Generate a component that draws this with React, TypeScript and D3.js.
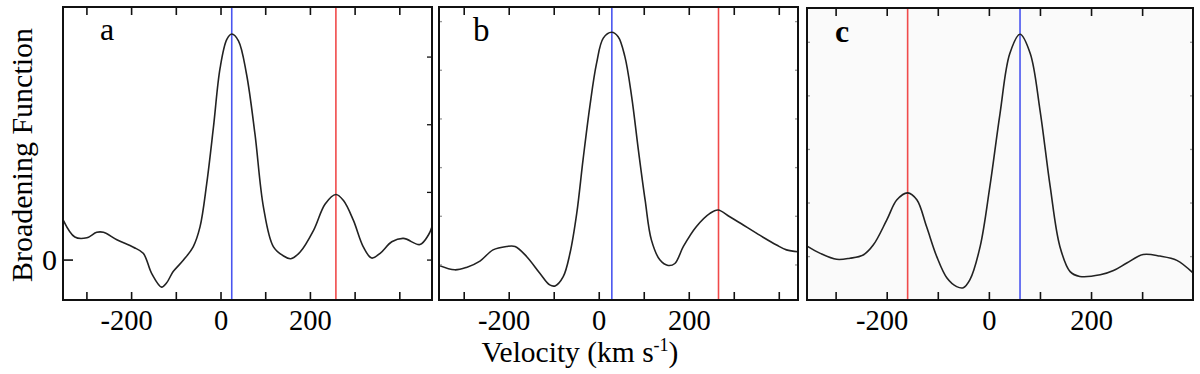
import React from 'react';
import * as d3 from 'd3';

// ---- Data (velocity km/s, broadening function in tick units) ----
const velA = [-353, -327, -300, -278, -263, -233, -196, -174, -155, -133, -122, -107, -84, -62, -47, -32, -17, -2, 13, 24, 39, 57, 76, 95, 117, 140, 156, 177, 207, 233, 257, 274, 296, 318, 337, 356, 382, 408, 445, 464, 473];
const bfA = [0.59, 0.34, 0.33, 0.41, 0.41, 0.30, 0.19, 0.10, -0.20, -0.40, -0.34, -0.17, 0.0, 0.20, 0.49, 1.13, 1.96, 2.84, 3.26, 3.34, 3.24, 2.75, 1.86, 0.78, 0.20, 0.06, 0.02, 0.12, 0.44, 0.83, 0.97, 0.88, 0.59, 0.20, 0.03, 0.10, 0.27, 0.32, 0.23, 0.37, 0.51];

const velB = [-356, -321, -295, -265, -236, -206, -187, -161, -132, -110, -98, -80, -65, -50, -36, -21, -6, 9, 27.5, 42, 57, 72, 87, 102, 116, 135, 153, 168, 187, 216, 246, 264, 290, 320, 350, 364, 394, 416, 442];
const bfB = [-0.01, -0.10, -0.05, 0.08, 0.31, 0.38, 0.38, 0.17, -0.17, -0.41, -0.43, -0.24, 0.24, 1.06, 2.16, 3.25, 4.14, 4.66, 4.78, 4.69, 4.28, 3.46, 2.36, 1.33, 0.51, 0.10, -0.01, 0.03, 0.38, 0.79, 1.06, 1.13, 0.99, 0.82, 0.65, 0.57, 0.41, 0.31, 0.27];

const velC = [-356, -331, -299, -273, -247, -227, -201, -181, -160, -142, -123, -103, -83, -64, -51, -38, -18, 1, 21, 40, 60, 80, 99, 119, 138, 158, 177, 217, 243, 269, 301, 334, 367, 398];
const bfC = [0.19, 0.06, -0.05, -0.03, 0.03, 0.22, 0.68, 1.06, 1.19, 1.06, 0.56, 0.0, -0.40, -0.56, -0.58, -0.43, 0.19, 1.31, 2.68, 3.79, 4.15, 3.79, 2.74, 1.31, 0.19, -0.28, -0.37, -0.34, -0.26, -0.12, 0.04, 0.01, -0.07, -0.30];

const panelLabels = ['a', 'b', 'c'];
const blueVel = [24, 28, 60];
const redVel = [257, 265, -160];
const xTicksA = [-300, -200, -100, 0, 100, 200, 300, 400];
const xTicksC = [-300, -200, -100, 0, 100, 200, 300];
const xTickLabels = [-200, 0, 200];
const yTicksA = [0, 1, 2, 3];
const yTicksB = [0, 1, 2, 3, 4, 5];
const yTicksC = [0, 1, 2, 3, 4];

const FONT = 'Liberation Serif, Tinos, Times New Roman, Times, serif';

type Panel = {
  vel: number[];
  bf: number[];
  x0: number; x1: number; y0: number; y1: number;
  xDom: [number, number];
  yDom: [number, number];
  xTicks: number[];
  yTicks: number[];
  label: string;
  labelX: number; labelY: number; labelSize: number; labelBold: boolean;
  blue: number; red: number;
  sideTickStyle: 'dark' | 'light';
  bg: string;
};

const panels: Panel[] = [
  { vel: velA, bf: bfA, x0: 63, x1: 432, y0: 7, y1: 300, xDom: [-353.5, 472], yDom: [-0.59, 3.74], xTicks: xTicksA, yTicks: yTicksA,
    label: panelLabels[0], labelX: 100, labelY: 40, labelSize: 32, labelBold: false, blue: blueVel[0], red: redVel[0], sideTickStyle: 'dark', bg: '#ffffff' },
  { vel: velB, bf: bfB, x0: 439, x1: 798, y0: 7, y1: 300, xDom: [-356, 441.6], yDom: [-0.72, 5.30], xTicks: xTicksA, yTicks: yTicksB,
    label: panelLabels[1], labelX: 473, labelY: 41, labelSize: 33, labelBold: false, blue: blueVel[1], red: redVel[1], sideTickStyle: 'light', bg: '#ffffff' },
  { vel: velC, bf: bfC, x0: 807, x1: 1193, y0: 8, y1: 300, xDom: [-357, 398.6], yDom: [-0.81, 4.64], xTicks: xTicksC, yTicks: yTicksC,
    label: panelLabels[2], labelX: 835, labelY: 42, labelSize: 32, labelBold: true, blue: blueVel[2], red: redVel[2], sideTickStyle: 'light', bg: '#fafafa' },
];

const txt = (size: number, bold = false): React.CSSProperties => ({
  fontFamily: FONT, fontSize: size, fontWeight: bold ? 'bold' : 'normal',
});

function PanelView({ p, idx }: { p: Panel; idx: number }) {
  const x = d3.scaleLinear().domain(p.xDom).range([p.x0, p.x1]);
  const y = d3.scaleLinear().domain(p.yDom).range([p.y1, p.y0]);
  const pts: [number, number][] = p.vel.map((v, i) => [v, p.bf[i]]);
  const line = d3.line<[number, number]>()
    .x(d => x(d[0]))
    .y(d => y(d[1]))
    .curve(d3.curveCatmullRom.alpha(0.5));
  const clipId = `clip-${idx}`;
  const sideColor = p.sideTickStyle === 'dark' ? '#111' : '#999';
  const sideLen = p.sideTickStyle === 'dark' ? 5 : 3;
  return (
    <g>
      <defs>
        <clipPath id={clipId}>
          <rect x={p.x0} y={p.y0} width={p.x1 - p.x0} height={p.y1 - p.y0} />
        </clipPath>
      </defs>
      <rect x={p.x0} y={p.y0} width={p.x1 - p.x0} height={p.y1 - p.y0} fill={p.bg} />
      <g clipPath={`url(#${clipId})`}>
        <line x1={x(p.blue)} x2={x(p.blue)} y1={p.y0} y2={p.y1} stroke="#4a55f0" strokeWidth={1.6} />
        <line x1={x(p.red)} x2={x(p.red)} y1={p.y0} y2={p.y1} stroke="#f04a4a" strokeWidth={1.6} />
        <path d={line(pts) || ''} fill="none" stroke="#222" strokeWidth={1.6} />
      </g>
      {p.xTicks.map(t => (
        <g key={'xt' + t}>
          <line x1={x(t)} x2={x(t)} y1={p.y1} y2={p.y1 - 8} stroke="#111" strokeWidth={1.6} />
          <line x1={x(t)} x2={x(t)} y1={p.y0} y2={p.y0 + 8} stroke="#111" strokeWidth={1.6} />
        </g>
      ))}
      {p.yTicks.map(t => (
        <g key={'yt' + t}>
          <line x1={p.x1} x2={p.x1 - sideLen} y1={y(t)} y2={y(t)} stroke={sideColor} strokeWidth={1.3} />
          {p.sideTickStyle === 'light' && (
            <line x1={p.x0} x2={p.x0 + sideLen} y1={y(t)} y2={y(t)} stroke={sideColor} strokeWidth={1.3} />
          )}
        </g>
      ))}
      {p.sideTickStyle === 'dark' && (
        <g>
          <line x1={p.x0} x2={p.x0 + 10} y1={y(0)} y2={y(0)} stroke="#111" strokeWidth={1.6} />
          <text x={57} y={y(0) + 9.5} textAnchor="end" style={txt(30)} fill="#000">0</text>
        </g>
      )}
      {xTickLabels.map(t => (
        <text key={'xl' + t} x={x(t) + (t < 0 ? -5 : 0)} y={330} textAnchor="middle" style={txt(28.5)} fill="#000">
          {t < 0 ? '-' + Math.abs(t) : String(t)}
        </text>
      ))}
      <rect x={p.x0} y={p.y0} width={p.x1 - p.x0} height={p.y1 - p.y0} fill="none" stroke="#111" strokeWidth={2} />
      <text x={p.labelX} y={p.labelY} style={txt(p.labelSize, p.labelBold)} fill="#000">
        {p.label}
      </text>
    </g>
  );
}

export default function App() {
  return (
    <svg width={1200} height={374} style={{ position: 'absolute', left: 0, top: 0, background: '#fff' }}>
      <rect x={0} y={0} width={1200} height={374} fill="#fff" />
      {panels.map((p, i) => <PanelView key={i} p={p} idx={i} />)}
      <text transform="translate(32,155) rotate(-90)" textAnchor="middle" style={txt(30)} fill="#000">
        Broadening Function
      </text>
      <text x={580} y={362} textAnchor="middle" style={txt(29.5)} fill="#000">
        Velocity (km s<tspan dy={-11} style={{ fontSize: 18 }}>-1</tspan><tspan dy={11}>)</tspan>
      </text>
    </svg>
  );
}
